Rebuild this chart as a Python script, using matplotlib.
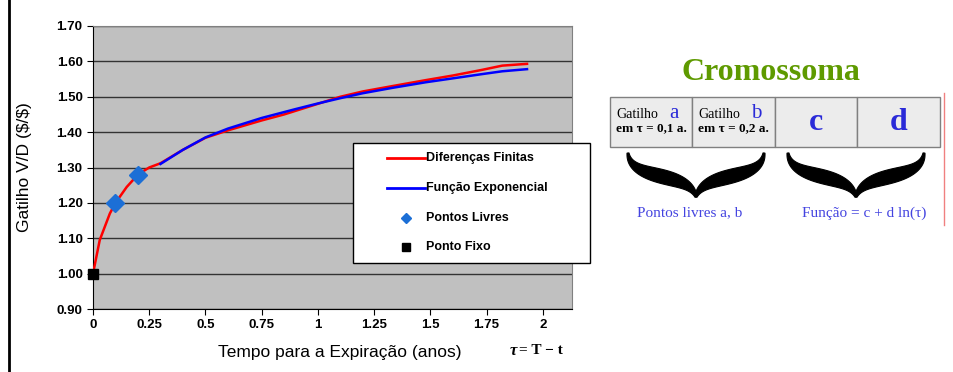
import numpy as np
import matplotlib
matplotlib.use("Agg")
import matplotlib.pyplot as plt
from matplotlib.patches import Rectangle, Polygon

plt.rc('font', family='Liberation Sans')

# values
tau_fd = [0, 0.03, 0.075, 0.1, 0.15, 0.2, 0.25, 0.3, 0.4, 0.5, 0.6, 0.75, 0.85,
          1.0, 1.1, 1.2, 1.33, 1.48, 1.6, 1.73, 1.82, 1.93]
gat_fd = [1.00, 1.095, 1.17, 1.20, 1.245, 1.28, 1.30, 1.312, 1.35, 1.384, 1.405,
          1.433, 1.45, 1.48, 1.50, 1.515, 1.53, 1.547, 1.56, 1.576, 1.588, 1.593]
tau_exp = [0.3, 0.4, 0.5, 0.6, 0.75, 0.9, 1.0, 1.1, 1.2, 1.33, 1.48, 1.6, 1.73, 1.82, 1.93]
gat_exp = [1.31, 1.35, 1.385, 1.41, 1.44, 1.465, 1.481, 1.496, 1.51, 1.525, 1.541,
           1.552, 1.564, 1.572, 1.578]
tau_livres = [0.1, 0.2]
gat_livres = [1.20, 1.28]
tau_fixo = [0]
gat_fixo = [1.00]
xticks = [0, 0.25, 0.5, 0.75, 1, 1.25, 1.5, 1.75, 2]
xtick_labels = ['0', '0.25', '0.5', '0.75', '1', '1.25', '1.5', '1.75', '2']
yticks = [0.9, 1.0, 1.1, 1.2, 1.3, 1.4, 1.5, 1.6, 1.7]
legend_labels = ['Diferenças Finitas', 'Função Exponencial', 'Pontos Livres', 'Ponto Fixo']
genes = ['a', 'b', 'c', 'd']
gene_tau = ['0,1', '0,2']

W, H = 954, 372
fig = plt.figure(figsize=(W / 100, H / 100), dpi=100)
fig.patch.set_facecolor('white')

ax = fig.add_axes([93 / W, 1 - 309 / H, (572 - 93) / W, (309 - 26) / H])
ax.set_facecolor('#c0c0c0')
ax.plot(tau_fd, gat_fd, color='#ff0000', lw=1.8, zorder=3)
ax.plot(tau_exp, gat_exp, color='#0000ff', lw=1.8, zorder=4)
ax.plot(tau_livres, gat_livres, ls='none', marker='D', ms=9, color='#1c6fd6',
        zorder=5, clip_on=False)
ax.plot(tau_fixo, gat_fixo, ls='none', marker='s', ms=7, color='black',
        zorder=6, clip_on=False)

ax.set_xlim(0, 2.13)
ax.set_ylim(0.9, 1.7)
ax.set_xticks(xticks)
ax.set_xticklabels(xtick_labels)
ax.set_yticks(yticks)
ax.set_yticklabels(['%.2f' % v for v in yticks])
ax.tick_params(labelsize=9.5, length=4, direction='out', colors='black')
for lab in ax.get_xticklabels() + ax.get_yticklabels():
    lab.set_fontweight('bold')
ax.yaxis.grid(True, color='#333333', lw=1)
ax.set_axisbelow(True)
ax.spines['left'].set_color('black')
ax.spines['bottom'].set_color('black')
ax.spines['top'].set_color('#808080')
ax.spines['right'].set_color('#808080')

fig.text(25 / W, 1 - 167 / H, r'Gatilho V/D (\$/\$)', rotation=90, ha='center',
         va='center', fontsize=12.5)
fig.text(340 / W, 1 - 352 / H, 'Tempo para a Expiração (anos)', ha='center',
         va='center', fontsize=12.5)
fig.text(517 / W, 1 - 351 / H, 'τ', ha='right', va='center', fontsize=12,
         family='Liberation Serif', fontweight='bold', style='italic')
fig.text(519 / W, 1 - 351 / H, '= T − t', ha='left', va='center', fontsize=11,
         family='Liberation Serif', fontweight='bold')

# overlay in pixel coordinates for legend and diagram
ov = fig.add_axes([0, 0, 1, 1])
ov.set_xlim(0, W)
ov.set_ylim(0, H)
ov.axis('off')


def py(y):
    return H - y


# legend box (sits partly outside the plot area, as in the original)
ov.add_patch(Rectangle((353, py(263)), 237, 120, facecolor='white',
                       edgecolor='black', lw=1, zorder=2))
rows = [158, 188, 218, 247]
ov.plot([387, 425], [py(rows[0])] * 2, color='#ff0000', lw=2, zorder=3)
ov.plot([387, 425], [py(rows[1])] * 2, color='#0000ff', lw=2, zorder=3)
ov.plot([406], [py(rows[2])], ls='none', marker='D', ms=5, color='#1c6fd6', zorder=3)
ov.plot([406], [py(rows[3])], ls='none', marker='s', ms=6, color='black', zorder=3)
for r, lab in zip(rows, legend_labels):
    ov.text(426, py(r), lab, ha='left', va='center', fontsize=9,
            fontweight='bold', zorder=3)

ov.plot([9, 9], [0, H], color='black', lw=2)
ov.plot([944, 944], [py(93), py(225)], color='#f08080', lw=1)

ov.text(771, py(72), 'Cromossoma', ha='center', va='center', fontsize=23,
        fontweight='bold', family='Liberation Serif', color='#5e9a00')

cells = [610, 692, 775, 857, 940]
for i in range(4):
    ov.add_patch(Rectangle((cells[i], py(147)), cells[i + 1] - cells[i], 50,
                           facecolor='#ececec', edgecolor='#808080', lw=1))
blue = '#2a2ad8'
for i in range(2):
    x0 = cells[i] + 6
    ov.text(x0, py(118), 'Gatilho', ha='left', va='baseline', fontsize=10,
            family='Liberation Serif', color='black')
    ov.text(x0 + 58, py(118), genes[i], ha='center', va='baseline', fontsize=15,
            family='Liberation Serif', color=blue)
    ov.text(x0, py(131), 'em τ = ' + gene_tau[i] + ' a.', ha='left', va='baseline',
            fontsize=9.5, family='Liberation Serif', fontweight='bold', color='black')
for i in range(2, 4):
    ov.text((cells[i] + cells[i + 1]) / 2, py(123), genes[i], ha='center',
            va='center', fontsize=23, family='Liberation Serif',
            fontweight='bold', color=blue)


def brace(xl, xr, ytop, ybot):
    # filled curly brace, opening upward with its point down
    w = xr - xl
    d = ybot - ytop
    t = np.linspace(0, 1, 80)
    p0 = np.array([0.0, 0.0])
    p1 = np.array([0.02, 0.66])
    p2 = np.array([0.44, 0.40])
    p3 = np.array([0.5, 1.0])
    c = ((1 - t) ** 3)[:, None] * p0 + (3 * (1 - t) ** 2 * t)[:, None] * p1 \
        + (3 * (1 - t) * t ** 2)[:, None] * p2 + (t ** 3)[:, None] * p3
    dc = (3 * (1 - t) ** 2)[:, None] * (p1 - p0) + (6 * (1 - t) * t)[:, None] * (p2 - p1) \
        + (3 * t ** 2)[:, None] * (p3 - p2)
    cx, cy = c[:, 0] * w, c[:, 1] * d
    dx, dy = dc[:, 0] * w, dc[:, 1] * d
    n = np.hypot(dx, dy)
    nx, ny = -dy / n, dx / n
    th = 1.0 + 6.0 * np.sin(np.pi * t ** 1.1) ** 1.0
    ux, uy = cx + nx * th, cy + ny * th
    lx, ly = cx - nx * th, cy - ny * th
    left = np.concatenate([np.column_stack([ux, uy]), np.column_stack([lx, ly])[::-1]])
    right = left.copy()
    right[:, 0] = w - right[:, 0]
    for pts in (left, right):
        ov.add_patch(Polygon(np.column_stack([xl + pts[:, 0], py(ytop + pts[:, 1])]),
                             closed=True, facecolor='black', edgecolor='black', lw=0.8))


brace(628, 764, 153, 197)
brace(788, 924, 153, 197)

ov.text(690, py(213), 'Pontos livres a, b', ha='center', va='center',
        fontsize=11, family='Liberation Serif', color='#4444e0')
ov.text(864, py(213), 'Função = c + d ln(τ)', ha='center', va='center',
        fontsize=11, family='Liberation Serif', color='#4444e0')

fig.savefig('out.png', dpi=100)
